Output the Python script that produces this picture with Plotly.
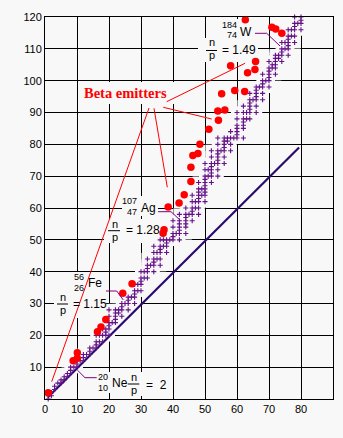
import plotly.graph_objects as go

# ---------------- data ----------------
# stable nuclides: protons (Z) and the neutron numbers of the stable isotopes
stable_z = [1, 2, 3, 4, 5, 6, 7, 8, 9, 10, 11, 12, 13, 14, 15, 16, 17, 18, 19, 20,
            21, 22, 23, 24, 25, 26, 27, 28, 29, 30, 31, 32, 33, 34, 35, 36, 37, 38, 39, 40,
            41, 42, 44, 45, 46, 47, 48, 49, 50, 51, 52, 53, 54, 55, 56, 57, 58, 59, 60,
            62, 63, 64, 65, 66, 67, 68, 69, 70, 71, 72, 73, 74, 75, 76, 77, 78, 79, 80,
            81, 82]
stable_n = [[0, 1], [1, 2], [3, 4], [5], [5, 6], [6, 7], [7, 8], [8, 9, 10], [10],
            [10, 11, 12], [12], [12, 13, 14], [14], [14, 15, 16], [16], [16, 17, 18, 20],
            [18, 20], [18, 20, 22], [20, 21, 22], [20, 22, 23, 24, 26, 28],
            [24], [24, 25, 26, 27, 28], [27, 28], [26, 28, 29, 30], [30], [28, 30, 31, 32],
            [32], [30, 32, 33, 34, 36], [34, 36], [34, 36, 37, 38, 40], [38, 40],
            [38, 40, 41, 42, 44], [42], [40, 42, 43, 44, 46, 48], [44, 46],
            [42, 44, 46, 47, 48, 50], [48, 50], [46, 48, 49, 50], [50], [50, 51, 52, 54, 56],
            [52], [50, 52, 53, 54, 55, 56, 58], [52, 54, 55, 56, 57, 58, 60], [58],
            [56, 58, 59, 60, 62, 64], [60, 62], [58, 60, 62, 63, 64, 65, 66, 68], [64, 66],
            [62, 64, 65, 66, 67, 68, 69, 70, 72, 74], [70, 72],
            [68, 70, 71, 72, 73, 74, 76, 78], [74], [70, 72, 74, 75, 76, 77, 78, 80, 82],
            [78], [74, 76, 78, 79, 80, 81, 82], [81, 82], [78, 80, 82, 84], [82],
            [82, 83, 84, 85, 86, 88, 90],
            [82, 85, 86, 87, 88, 90, 92], [88, 90], [88, 90, 91, 92, 93, 94, 96], [94],
            [90, 92, 94, 95, 96, 97, 98], [98], [94, 96, 98, 99, 100, 102], [100],
            [98, 100, 101, 102, 103, 104, 106], [104, 105], [102, 104, 105, 106, 107, 108],
            [107, 108], [106, 108, 109, 110, 112], [110, 112],
            [108, 110, 111, 112, 113, 114, 116], [114, 116], [112, 114, 116, 117, 118, 120],
            [118], [116, 118, 119, 120, 121, 122], [122], [122]]

# beta emitters (red dots)
beta_protons = [1.0, 8.8, 10.1, 10.1, 16.4, 17.5, 19.0, 24.3, 27.2, 36.9, 37.2, 38.5,
                41.9, 43.5, 45.6, 45.6, 46.2, 47.8, 48.4, 51.2, 54.2, 54.0, 56.2, 55.2,
                59.3, 62.4, 58.0, 63.3, 65.6, 65.8, 62.6, 70.9, 72.1, 74.0]
beta_neutrons = [2.0, 12.0, 12.8, 14.5, 21.1, 22.6, 25.0, 33.2, 36.2, 52.1, 53.2, 60.3,
                 61.6, 64.2, 68.3, 72.8, 76.5, 77.1, 80.0, 84.7, 87.6, 90.5, 90.8, 95.9,
                 96.9, 96.6, 104.7, 102.5, 103.5, 106.0, 119.1, 116.8, 116.2, 114.9]

# N = Z line
nz_protons = [1.0, 79.4]
nz_neutrons = [0.6, 79.0]

x_ticks = [0, 10, 20, 30, 40, 50, 60, 70, 80]
y_ticks = [10, 20, 30, 40, 50, 60, 70, 80, 90, 100, 110, 120]

# ---------------- build ----------------
sz, sn = [], []
for z, ns in zip(stable_z, stable_n):
    for n in ns:
        sz.append(z)
        sn.append(n)

BG = "#f8f8f8"
SANS = "Liberation Sans, Arial, sans-serif"
SERIF = "Liberation Serif, Times New Roman, serif"
PURPLE = "#800080"

# plot area in pixels: x 45..333 (0..90), y 399..17 (0..120)
def pz(X):
    return (X - 45) / 3.2

def pn(Y):
    return (399 - Y) / (382 / 120)

fig = go.Figure()

# background-coloured mask that breaks grid lines around the stable band
fig.add_trace(go.Scatter(x=sz, y=sn, mode="markers", hoverinfo="skip",
                         marker=dict(symbol="square", size=12, color=BG),
                         cliponaxis=False, showlegend=False))
# N = Z line
fig.add_trace(go.Scatter(x=nz_protons, y=nz_neutrons, mode="lines", hoverinfo="skip",
                         line=dict(color="#2c0a6e", width=2.2), showlegend=False))
# stable nuclides
fig.add_trace(go.Scatter(x=sz, y=sn, mode="markers",
                         marker=dict(symbol="cross-thin", size=3.6,
                                     line=dict(color="#641089", width=1.1)),
                         cliponaxis=False, showlegend=False))
# beta emitters
fig.add_trace(go.Scatter(x=beta_protons, y=beta_neutrons, mode="markers",
                         marker=dict(symbol="circle", size=7.5, color="#ff0000"),
                         cliponaxis=False, showlegend=False))

shapes = []
# masks behind labels (between grid and traces)
for (x0, y0, x1, y1) in [(80, 82, 176, 104), (198, 38, 258, 62), (218, 19, 258, 38),
                         (122, 196, 158, 216), (104, 219, 160, 243), (72, 272, 103, 293),
                         (54, 292, 106, 318), (96, 372, 128, 393), (124, 372, 166, 396)]:
    shapes.append(dict(type="rect", xref="x", yref="y", layer="between",
                       x0=pz(x0), x1=pz(x1), y0=pn(y1), y1=pn(y0),
                       fillcolor=BG, line=dict(width=0)))

# red pointer lines
for (x0, y0, x1, y1) in [(51.7, 381.7, 149, 108), (154, 108.3, 167.3, 187.3),
                         (163.3, 107.3, 211.7, 119), (166.7, 101.7, 245, 63.3)]:
    shapes.append(dict(type="line", xref="x", yref="y", x0=pz(x0), y0=pn(y0),
                       x1=pz(x1), y1=pn(y1), line=dict(color="#ff0000", width=1)))

# purple leader lines
for pts in [[(255, 33.3), (266.7, 33.3), (280, 46)],
            [(158, 211.7), (171, 211.7), (180.5, 220.5)],
            [(106, 291), (116.7, 291), (123.3, 300)],
            [(96.7, 377.7), (85, 377.7), (77.3, 370)]]:
    path = "M " + " L ".join(f"{pz(a):.3f},{pn(b):.3f}" for a, b in pts)
    shapes.append(dict(type="path", xref="x", yref="y", path=path,
                       line=dict(color=PURPLE, width=1)))

# fraction bars
for (x0, x1, y) in [(206, 217, 50.5), (108, 120, 230.7), (57, 68, 304), (127.7, 139.3, 384)]:
    shapes.append(dict(type="line", xref="x", yref="y", x0=pz(x0), x1=pz(x1),
                       y0=pn(y), y1=pn(y), line=dict(color="black", width=1)))

annotations = []

def txt(X, Y, s, size=11, xanchor="center", color="black", family=SANS, **kw):
    d = dict(x=pz(X), y=pn(Y), xref="x", yref="y", text=s, showarrow=False,
             font=dict(size=size, color=color, family=family),
             xanchor=xanchor, yanchor="middle", borderpad=0)
    d.update(kw)
    annotations.append(d)

NS = 9      # stacked mass / atomic number font size
FS = 11     # n / p font size

txt(125, 93, "<b>Beta emitters</b>", size=14.5, color="#ff0000", family=SERIF)

# 184/74 W
txt(237.5, 24.6, "184", size=NS, xanchor="right")
txt(237.5, 35.3, "74", size=NS, xanchor="right")
txt(239, 31.5, "W", size=12, xanchor="left")
# n/p = 1.49
txt(212, 42.2, "n", size=FS)
txt(212, 55.2, "p", size=FS)
txt(221, 50, "= 1.49", size=12, xanchor="left")

# 107/47 Ag
txt(138.3, 201.3, "107", size=NS, xanchor="right")
txt(137.8, 212.0, "47", size=NS, xanchor="right")
txt(139.5, 207.5, "Ag", size=12, xanchor="left")
# n/p = 1.28
txt(114.5, 223.8, "n", size=FS)
txt(114.5, 236.8, "p", size=FS)
txt(125, 230, "= 1.28", size=12, xanchor="left")

# 56/26 Fe
txt(85.3, 277.0, "56", size=NS, xanchor="right")
txt(85.3, 287.7, "26", size=NS, xanchor="right")
txt(86.5, 283.3, "Fe", size=12, xanchor="left")
# n/p = 1.15
txt(62.8, 297.2, "n", size=FS)
txt(62.8, 310.2, "p", size=FS)
txt(71.7, 304.3, "= 1.15", size=12, xanchor="left")

# 20/10 Ne
txt(108.5, 377.2, "20", size=NS, xanchor="right")
txt(108.5, 387.9, "10", size=NS, xanchor="right")
txt(110.5, 383.3, "Ne", size=12, xanchor="left")
# n/p = 2
txt(134, 377.2, "n", size=FS)
txt(134, 390.2, "p", size=FS)
txt(145, 384.7, "=  2", size=12, xanchor="left")

# axis titles
txt(11, 240, "Neutrons", size=11, textangle=-90)
txt(175, 431, "Protons", size=11)

fig.update_layout(
    width=343, height=438,
    margin=dict(l=45, r=10, t=17, b=39, pad=0),
    paper_bgcolor=BG, plot_bgcolor=BG,
    showlegend=False,
    shapes=shapes,
    annotations=annotations,
    xaxis=dict(range=[0, 90], tickvals=x_ticks, ticktext=[str(v) for v in x_ticks],
               showgrid=True, gridcolor="black", gridwidth=1, zeroline=False,
               showline=True, linecolor="black", linewidth=1, mirror=True,
               ticks="", tickfont=dict(family=SANS, size=11, color="black"),
               fixedrange=True),
    yaxis=dict(range=[0, 120], tickvals=y_ticks, ticktext=[str(v) for v in y_ticks],
               showgrid=True, gridcolor="black", gridwidth=1, zeroline=False,
               showline=True, linecolor="black", linewidth=1, mirror=True,
               ticks="", tickfont=dict(family=SANS, size=11, color="black"),
               fixedrange=True),
)

fig.write_html("out.html", config={"displayModeBar": False})
